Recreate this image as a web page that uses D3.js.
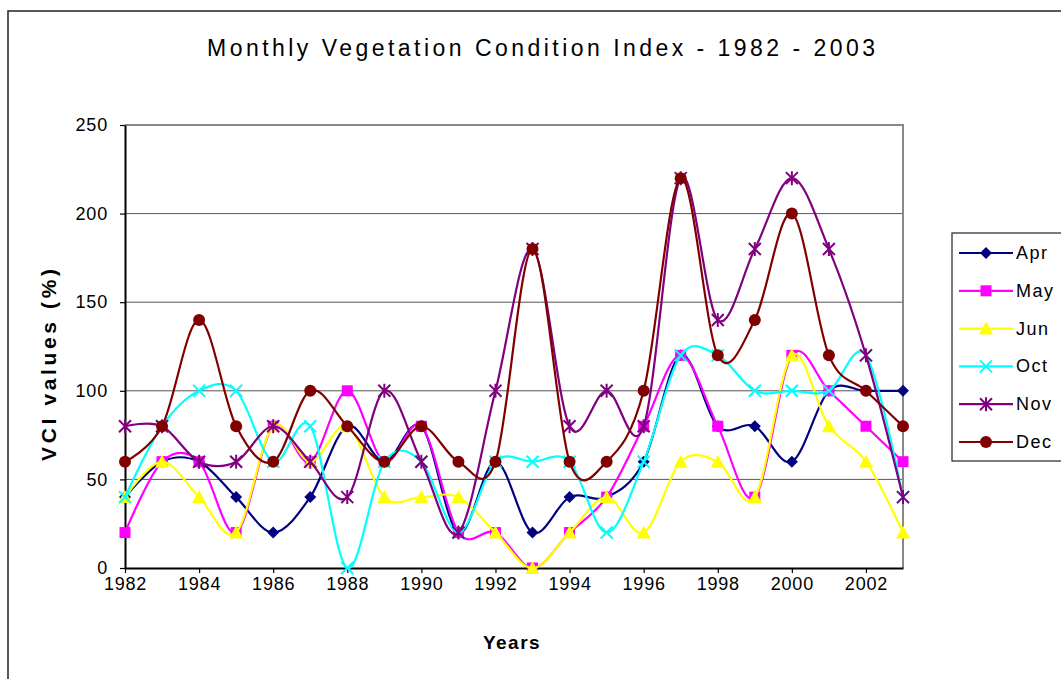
<!DOCTYPE html>
<html>
<head>
<meta charset="utf-8">
<script src="https://cdn.jsdelivr.net/npm/d3@7"></script>
<style>
  body { margin: 0; background: #fff; }
  text { font-family: Arial, "Liberation Sans", sans-serif; fill: #000; }
</style>
</head>
<body>
<svg id="chart" width="1061" height="679"></svg>
<script>
const years = d3.range(1982, 2004);
const xTickYears = [1982, 1984, 1986, 1988, 1990, 1992, 1994, 1996, 1998, 2000, 2002];
const yTicks = [0, 50, 100, 150, 200, 250];

const apr = [40, 60, 60, 40, 20, 40, 80, 60, 80, 20, 60, 20, 40, 40, 60, 120, 80, 80, 60, 100, 100, 100];
const may = [20, 60, 60, 20, 80, 60, 100, 60, 80, 20, 20, 0, 20, 40, 80, 120, 80, 40, 120, 100, 80, 60];
const jun = [40, 60, 40, 20, 80, 60, 80, 40, 40, 40, 20, 0, 20, 40, 20, 60, 60, 40, 120, 80, 60, 20];
const oct = [40, 80, 100, 100, 60, 80, 0, 60, 60, 20, 60, 60, 60, 20, 60, 120, 120, 100, 100, 100, 120, 40];
const nov = [80, 80, 60, 60, 80, 60, 40, 100, 60, 20, 100, 180, 80, 100, 80, 220, 140, 180, 220, 180, 120, 40];
const dec = [60, 80, 140, 80, 60, 100, 80, 60, 80, 60, 60, 180, 60, 60, 100, 220, 120, 140, 200, 120, 100, 80];

const series = [
  {name: 'Apr', values: apr, color: '#000080', marker: 'diamond'},
  {name: 'May', values: may, color: '#ff00ff', marker: 'square'},
  {name: 'Jun', values: jun, color: '#ffff00', marker: 'triangle'},
  {name: 'Oct', values: oct, color: '#00ffff', marker: 'cross'},
  {name: 'Nov', values: nov, color: '#800080', marker: 'star'},
  {name: 'Dec', values: dec, color: '#800000', marker: 'circle'}
];

const margin = {top: 125, left: 125};
const width = 778, height = 443;

const svg = d3.select('#chart');

// outer chart frame
svg.append('rect')
  .attr('x', 8).attr('y', 11)
  .attr('width', 1100).attr('height', 700)
  .attr('fill', 'none').attr('stroke', '#222').attr('stroke-width', 1.5);

svg.append('text')
  .attr('x', 207).attr('y', 56)
  .attr('font-size', '23px')
  .attr('textLength', 668).attr('lengthAdjust', 'spacing')
  .text('Monthly Vegetation Condition Index - 1982 - 2003');

const g = svg.append('g').attr('transform', `translate(${margin.left},${margin.top})`);

const x = d3.scaleLinear().domain([1982, 2003]).range([0, width]);
const y = d3.scaleLinear().domain([0, 250]).range([height, 0]);

// gridlines
g.selectAll('.grid')
  .data(yTicks.filter(d => d > 0 && d < 250))
  .enter().append('line')
  .attr('x1', 0).attr('x2', width)
  .attr('y1', d => y(d)).attr('y2', d => y(d))
  .attr('stroke', '#555').attr('stroke-width', 1);

// plot area top / right border
g.append('path')
  .attr('d', `M0,0H${width}V${height}`)
  .attr('fill', 'none').attr('stroke', '#888').attr('stroke-width', 2);

const yAxis = g.append('g')
  .call(d3.axisLeft(y).tickValues(yTicks).tickSize(5).tickPadding(12).tickSizeOuter(0));
const xAxis = g.append('g')
  .attr('transform', `translate(0,${height})`)
  .call(d3.axisBottom(x).tickValues(xTickYears).tickFormat(d3.format('d')).tickSize(5).tickPadding(3).tickSizeOuter(0));

[yAxis, xAxis].forEach(a => {
  a.select('.domain').attr('stroke', '#000').attr('stroke-width', 2);
  a.selectAll('.tick line').attr('stroke', '#000').attr('stroke-width', 1.2);
  a.selectAll('.tick text')
    .attr('font-size', '18px')
    .attr('letter-spacing', '0.8px')
    .attr('font-family', 'Arial, "Liberation Sans", sans-serif')
    .attr('fill', '#000');
});
xAxis.selectAll('.tick text').attr('dy', '0.8em');

// axis titles
svg.append('text')
  .attr('x', 512).attr('y', 649)
  .attr('text-anchor', 'middle')
  .attr('font-size', '19px').attr('font-weight', 'bold')
  .attr('letter-spacing', '1.5px')
  .text('Years');

svg.append('text')
  .attr('transform', 'translate(56,365) rotate(-90)')
  .attr('text-anchor', 'middle')
  .attr('font-size', '21px').attr('font-weight', 'bold')
  .attr('textLength', 192).attr('lengthAdjust', 'spacing')
  .text('VCI values (%)');

const line = d3.line()
  .x((d, i) => x(years[i]))
  .y(d => y(d))
  .curve(d3.curveCatmullRom.alpha(0));

function drawMarker(sel, type, color) {
  if (type === 'diamond') {
    sel.append('path').attr('d', 'M0,-6L6,0L0,6L-6,0Z').attr('fill', color);
  } else if (type === 'square') {
    sel.append('rect').attr('x', -5.5).attr('y', -5.5).attr('width', 11).attr('height', 11).attr('fill', color);
  } else if (type === 'triangle') {
    sel.append('path').attr('d', 'M0,-7L7,6H-7Z').attr('fill', color);
  } else if (type === 'cross') {
    sel.append('path').attr('d', 'M-6,-6L6,6M-6,6L6,-6').attr('stroke', color).attr('stroke-width', 2);
  } else if (type === 'star') {
    sel.append('path').attr('d', 'M-6,-6L6,6M-6,6L6,-6M0,-7V7').attr('stroke', color).attr('stroke-width', 2);
  } else if (type === 'circle') {
    sel.append('circle').attr('r', 6).attr('fill', color);
  }
}

series.forEach(s => {
  g.append('path')
    .datum(s.values)
    .attr('fill', 'none')
    .attr('stroke', s.color)
    .attr('stroke-width', 2.2)
    .attr('d', line);
  g.selectAll(null)
    .data(s.values)
    .enter().append('g')
    .attr('transform', (d, i) => `translate(${x(years[i])},${y(d)})`)
    .each(function() { drawMarker(d3.select(this), s.marker, s.color); });
});

// legend
const legend = svg.append('g');
legend.append('rect')
  .attr('x', 952).attr('y', 233)
  .attr('width', 150).attr('height', 228)
  .attr('fill', '#fff').attr('stroke', '#222').attr('stroke-width', 1.2);

series.forEach((s, i) => {
  const ly = 253 + i * 37.8;
  const item = legend.append('g').attr('transform', `translate(0,${ly})`);
  item.append('line')
    .attr('x1', 959).attr('x2', 1013)
    .attr('stroke', s.color).attr('stroke-width', 2.2);
  drawMarker(item.append('g').attr('transform', 'translate(986,0)'), s.marker, s.color);
  item.append('text')
    .attr('x', 1016).attr('y', 6)
    .attr('font-size', '18px')
    .attr('letter-spacing', '1.5px')
    .text(s.name);
});
</script>
</body>
</html>
